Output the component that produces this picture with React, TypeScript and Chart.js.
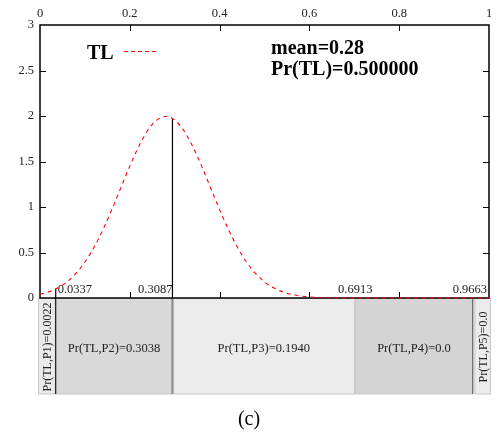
import React, { useEffect, useRef } from 'react';
import { Chart, registerables } from 'chart.js';

Chart.register(...registerables);

// x positions of the sampled curve
const xs = [
  0, 0.02, 0.04, 0.06, 0.08, 0.1, 0.12, 0.14, 0.16, 0.18, 0.2, 0.22, 0.24, 0.26, 0.28,
  0.3, 0.32, 0.34, 0.36, 0.38, 0.4, 0.42, 0.44, 0.46, 0.48, 0.5, 0.52, 0.54, 0.56, 0.58,
  0.6, 0.62, 0.64, 0.66, 0.68, 0.7, 0.8, 0.9, 1.0,
];
// TL density values
const tlDensity = [
  0.04, 0.068, 0.112, 0.177, 0.27, 0.395, 0.555, 0.749, 0.971, 1.21, 1.449, 1.666, 1.842, 1.955, 1.995,
  1.955, 1.842, 1.666, 1.449, 1.21, 0.971, 0.749, 0.555, 0.395, 0.27, 0.177, 0.112, 0.068, 0.04, 0.022,
  0.012, 0.006, 0.003, 0.001, 0.0, 0.0, 0.0, 0.0, 0.0,
];

// partition boundaries (where drawn) and their printed labels
const boundaryValues = [0.035, 0.295, 0.702, 0.964];
const boundaryLabels = ['0.0337', '0.3087', '0.6913', '0.9663'];
const regionLabels = [
  'Pr(TL,P1)=0.0022',
  'Pr(TL,P2)=0.3038',
  'Pr(TL,P3)=0.1940',
  'Pr(TL,P4)=0.0',
  'Pr(TL,P5)=0.0',
];
const seriesName = 'TL';
const meanText = 'mean=0.28';
const prText = 'Pr(TL)=0.500000';
const caption = '(c)';

const xTickStep = 0.2;
const yTickStep = 0.5;

const SERIF = '"Liberation Serif", "Times New Roman", serif';

function curveAt(v: number): number {
  for (let i = 0; i < xs.length - 1; i++) {
    if (v >= xs[i] && v <= xs[i + 1]) {
      const t = (v - xs[i]) / (xs[i + 1] - xs[i]);
      return tlDensity[i] + t * (tlDensity[i + 1] - tlDensity[i]);
    }
  }
  return 0;
}

const fmt = (v: any) => String(Number(Number(v).toFixed(3)));

const decorPlugin = {
  id: 'decor',
  beforeDatasetsDraw(chart: any) {
    const { ctx, chartArea } = chart;
    const { left, right, top, bottom } = chartArea;
    const xs_ = chart.scales.x;
    const ys_ = chart.scales.y;
    ctx.save();
    // inner ticks
    ctx.strokeStyle = '#000';
    ctx.lineWidth = 1;
    const tl = 6;
    for (let v = xTickStep; v < 1 - 1e-6; v += xTickStep) {
      const x = Math.round(xs_.getPixelForValue(v)) + 0.5;
      ctx.beginPath();
      ctx.moveTo(x, top);
      ctx.lineTo(x, top + tl);
      ctx.moveTo(x, bottom);
      ctx.lineTo(x, bottom - tl);
      ctx.stroke();
    }
    for (let v = yTickStep; v < 3 - 1e-6; v += yTickStep) {
      const y = Math.round(ys_.getPixelForValue(v)) + 0.5;
      ctx.beginPath();
      ctx.moveTo(left, y);
      ctx.lineTo(left + tl, y);
      ctx.moveTo(right, y);
      ctx.lineTo(right - tl, y);
      ctx.stroke();
    }

    // boxes below the axis
    const boxTop = bottom + 0.5;
    const boxBottom = 394;
    const edges = [left - 2, ...boundaryValues.map((v) => xs_.getPixelForValue(v)), right + 2];
    const fills = ['#eaeaea', '#d9d9d9', '#ebebeb', '#d4d4d4', '#ebebeb'];
    for (let i = 0; i < 5; i++) {
      let x0 = edges[i];
      const x1 = edges[i + 1];
      if (i === 4) x0 += 1.5;
      ctx.fillStyle = fills[i];
      ctx.fillRect(x0, boxTop, x1 - x0, boxBottom - boxTop);
      ctx.strokeStyle = '#c8c8c8';
      ctx.lineWidth = 1;
      ctx.strokeRect(x0 + 0.5, boxTop, x1 - x0 - 1, boxBottom - boxTop);
    }
    // separators
    const sepStyles = [
      { c: '#000', w: 1 },
      { c: '#8a8a8a', w: 2 },
      { c: '#c8c8c8', w: 1 },
      { c: '#444', w: 1 },
    ];
    boundaryValues.forEach((v, i) => {
      const x = xs_.getPixelForValue(v);
      ctx.strokeStyle = sepStyles[i].c;
      ctx.lineWidth = sepStyles[i].w;
      ctx.beginPath();
      ctx.moveTo(x, bottom);
      ctx.lineTo(x, boxBottom);
      ctx.stroke();
      // vertical marker up to the curve
      const cy = ys_.getPixelForValue(curveAt(v));
      if (bottom - cy > 1) {
        ctx.strokeStyle = '#000';
        ctx.lineWidth = 1.2;
        ctx.beginPath();
        ctx.moveTo(x, cy);
        ctx.lineTo(x, bottom);
        ctx.stroke();
      }
    });

    // region labels
    ctx.fillStyle = '#222';
    ctx.textBaseline = 'middle';
    ctx.textAlign = 'center';
    const midY = 349;
    for (let i = 0; i < 5; i++) {
      const x0 = edges[i];
      const x1 = edges[i + 1];
      const cx = (x0 + x1) / 2 + (i === 4 ? 0.8 : 0);
      if (i === 0 || i === 4) {
        ctx.font = `12px ${SERIF}`;
        ctx.save();
        ctx.translate(cx + 1, 347);
        ctx.rotate(-Math.PI / 2);
        ctx.fillText(regionLabels[i], 0, 0);
        ctx.restore();
      } else {
        ctx.font = `12.5px ${SERIF}`;
        ctx.fillText(regionLabels[i], cx, midY);
      }
    }

    // boundary labels above the axis
    ctx.fillStyle = '#222';
    ctx.font = `12.5px ${SERIF}`;
    ctx.textBaseline = 'alphabetic';
    const aligns: any[] = ['left', 'right', 'center', 'right'];
    boundaryValues.forEach((v, i) => {
      let x = xs_.getPixelForValue(v);
      if (i === 0) x += 2;
      if (i === 3) x = right - 2;
      ctx.textAlign = aligns[i];
      ctx.fillText(boundaryLabels[i], x, 292.5);
    });

    // frame
    ctx.strokeStyle = '#000';
    ctx.lineWidth = 1.5;
    ctx.strokeRect(left, top, right - left, bottom - top);
    ctx.restore();
  },
  afterDraw(chart: any) {
    const { ctx } = chart;
    ctx.save();
    ctx.fillStyle = '#000';
    ctx.textAlign = 'left';
    ctx.textBaseline = 'alphabetic';
    ctx.font = `bold 20px ${SERIF}`;
    ctx.fillText(seriesName, 87, 58.5);
    ctx.fillText(meanText, 271, 53.5);
    ctx.fillText(prText, 271, 74.5);
    // legend sample
    ctx.strokeStyle = '#ff0000';
    ctx.lineWidth = 1;
    ctx.setLineDash([4, 3]);
    ctx.beginPath();
    ctx.moveTo(124, 51.5);
    ctx.lineTo(158, 51.5);
    ctx.stroke();
    ctx.setLineDash([]);
    // caption
    ctx.textAlign = 'center';
    ctx.font = `20px ${SERIF}`;
    ctx.fillText(caption, 249, 425);
    ctx.restore();
  },
};

export default function App() {
  const canvasRef = useRef<HTMLCanvasElement | null>(null);

  useEffect(() => {
    if (!canvasRef.current) return;
    const chart = new Chart(canvasRef.current, {
      type: 'line',
      data: {
        datasets: [
          {
            label: seriesName,
            data: xs.map((x, i) => ({ x, y: tlDensity[i] })),
            borderColor: '#ff0000',
            borderWidth: 1.1,
            borderDash: [4, 4],
            pointRadius: 0,
            cubicInterpolationMode: 'monotone',
            fill: false,
            clip: false as any,
          },
        ],
      },
      options: {
        responsive: false,
        animation: false,
        devicePixelRatio: 1,
        layout: { padding: { left: 0, top: 0, right: 12, bottom: 135 } },
        plugins: {
          legend: { display: false },
          tooltip: { enabled: false },
        },
        scales: {
          x: {
            type: 'linear',
            position: 'top',
            min: 0,
            max: 1,
            ticks: {
              stepSize: xTickStep,
              color: '#222',
              padding: 4,
              maxRotation: 0,
              font: { family: SERIF, size: 12.5 },
              callback: fmt,
            },
            grid: { drawOnChartArea: false, drawTicks: false },
            border: { display: false },
            afterFit: (s: any) => {
              s.height = 25;
            },
          },
          y: {
            type: 'linear',
            min: 0,
            max: 3,
            ticks: {
              stepSize: yTickStep,
              color: '#222',
              padding: 6,
              font: { family: SERIF, size: 12.5 },
              callback: fmt,
            },
            grid: { drawOnChartArea: false, drawTicks: false },
            border: { display: false },
            afterFit: (s: any) => {
              s.width = 40;
            },
          },
        },
      },
      plugins: [decorPlugin],
    });
    return () => chart.destroy();
  }, []);

  return (
    <div style={{ position: 'absolute', left: 0, top: 0, width: 501, height: 433, background: '#fff' }}>
      <canvas ref={canvasRef} width={501} height={433} style={{ display: 'block' }} />
    </div>
  );
}
